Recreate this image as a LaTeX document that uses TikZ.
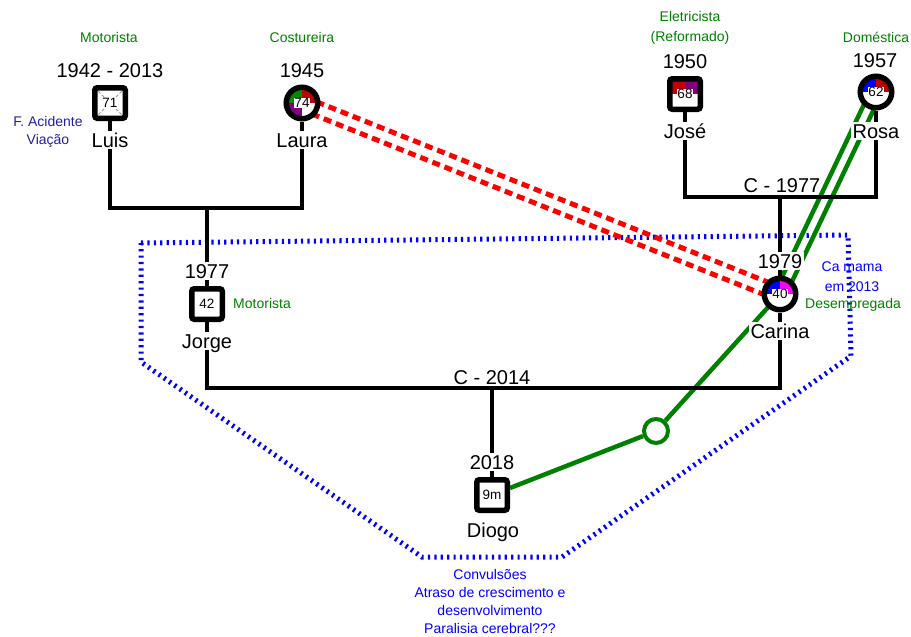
\documentclass[tikz,border=0pt]{standalone}
\usepackage{fontspec}
\setmainfont{Liberation Sans}
\usetikzlibrary{calc,backgrounds}
\definecolor{jobgreen}{RGB}{0,128,0}
\definecolor{notenavy}{RGB}{32,32,160}
\definecolor{noteblue}{RGB}{0,0,255}
\definecolor{qred}{RGB}{192,0,0}
\definecolor{qpurple}{RGB}{128,0,128}
\definecolor{qblue}{RGB}{0,0,255}
\definecolor{qmagenta}{RGB}{255,0,255}
\definecolor{qgreen}{RGB}{0,140,0}
\tikzset{
  male/.style={draw, line width=5.5pt, fill=white, minimum size=30.5pt, inner sep=0pt, rounded corners=2.5pt},
  female/.style={draw, circle, line width=5.5pt, fill=white, minimum size=31.5pt, inner sep=0pt},
  age/.style={font=\fontsize{13.5}{14}\selectfont, fill=white, inner sep=0.6pt},
  tag/.style={font=\fontsize{20}{22}\selectfont, fill=white, inner sep=1.8pt, text height=14.3pt, text depth=0pt},
  job/.style={text=jobgreen, font=\fontsize{14}{20}\selectfont, align=center},
  note/.style={font=\fontsize{14}{18}\selectfont, align=center},
  kin/.style={line width=4pt},
  quads/.style n args={4}{path picture={
    \fill[#1] (path picture bounding box.center) rectangle (path picture bounding box.north west);
    \fill[#2] (path picture bounding box.center) rectangle (path picture bounding box.north east);
    \fill[#3] (path picture bounding box.center) rectangle (path picture bounding box.south west);
    \fill[#4] (path picture bounding box.center) rectangle (path picture bounding box.south east);}},
  dead/.style={path picture={
    \draw[gray!80, line width=1pt, dash pattern=on 3pt off 2pt]
      (path picture bounding box.north west) -- (path picture bounding box.south east)
      (path picture bounding box.north east) -- (path picture bounding box.south west);}},
  conflictline/.style={draw=red, line width=5pt, dash pattern=on 8pt off 5pt},
  closeline/.style={draw=jobgreen, line width=4.5pt},
  householdline/.style={draw=noteblue, line width=5pt, dash pattern=on 2.2pt off 4.2pt},
}
\begin{document}
\begin{tikzpicture}[x=1pt, y=-1pt]
\useasboundingbox (0,0) rectangle (911,637);
% grandparents, father side
\node[male, dead, label={[age]center:71}] (luis) at (110,103) {};
\node[tag] (luisyear) at (110,70) {1942 - 2013};
\node[tag] (luisname) at (110,140) {Luis};
\node[job] (luisjob) at (109,37) {Motorista};
\node[note, text=notenavy] (luiscause) at (48,132) {F. Acidente\\Viação};
\node[female, quads={qgreen}{qred}{qpurple}{white}, label={[age]center:74}] (laura) at (302,103) {};
\node[tag] (laurayear) at (302,70) {1945};
\node[tag] (lauraname) at (302,140) {Laura};
\node[job] (laurajob) at (302,37) {Costureira};
% grandparents, mother side
\node[male, quads={qred}{qpurple}{white}{white}, label={[age]center:68}] (jose) at (685,94) {};
\node[tag] (joseyear) at (685,61) {1950};
\node[tag] (josename) at (685,131) {José};
\node[job] (josejob) at (690,27.5) {Eletricista\\(Reformado)};
\node[female, quads={qblue}{qred}{white}{white}, label={[age]center:62}] (rosa) at (876,92) {};
\node[tag] (rosayear) at (875,60) {1957};
\node[tag] (rosaname) at (876,131) {Rosa};
\node[job] (rosajob) at (876,37) {Doméstica};
% parents
\node[male, label={[age]center:42}] (jorge) at (207,304) {};
\node[tag] (jorgeyear) at (207,271) {1977};
\node[tag] (jorgename) at (207,341) {Jorge};
\node[job] (jorgejob) at (262,303) {Motorista};
\node[female, quads={qblue}{qmagenta}{white}{white}, label={[age]center:40}] (carina) at (780,294) {};
\node[tag] (carinayear) at (780,261) {1979};
\node[tag] (carinaname) at (780,331) {Carina};
\node[note, text=noteblue, font=\fontsize{14}{20}\selectfont] (carinanote) at (852,276.5) {Ca mama\\em 2013};
\node[job] (carinajob) at (853,305) {Desempregada};
% child
\node[male, label={[age]center:9m}] (diogo) at (492,495) {};
\node[tag] (diogoyear) at (492,462) {2018};
\node[tag] (diogoname) at (493,530) {Diogo};
\node[note, text=noteblue] (diogonote) at (490,601) {Convulsões\\Atraso de crescimento e\\desenvolvimento\\Paralisia cerebral???};
\node[draw=jobgreen, circle, line width=4pt, minimum size=24pt, inner sep=0pt] (gc) at (656,431) {};
% couples
\coordinate (c1) at (207,208);
\coordinate (c2) at (780,197);
\coordinate (c3) at (492,388);
\node[tag, fill=none] (c1977) at (782,185) {C - 1977};
\node[tag, fill=none] (c2014) at (492,377) {C - 2014};
\draw[kin] (luis) -- (luisname);
\draw[kin] (laura) -- (lauraname);
\draw[kin] (jose) -- (josename);
\draw[kin] (rosa) -- (rosaname);
\draw[kin] (jorge) -- (jorgename);
\draw[kin] (carina) -- (carinaname);
\draw[kin] (luisname) |- (c1) -| (lauraname);
\draw[kin] (josename) |- (c2) -| (rosaname);
\draw[kin] (jorgename) |- (c3) -| (carinaname);
\draw[kin] (c1) -- (jorgeyear);
\draw[kin] (jorgeyear) -- (jorge);
\draw[kin] (c2) -- (carinayear);
\draw[kin] (carinayear) -- (carina);
\draw[kin] (c3) -- (diogoyear);
\draw[kin] (diogoyear) -- (diogo);
% relations
\begin{scope}[on background layer]
\draw[householdline] (141,243) -- (848,235) -- (851,356) -- (562,557) -- (422,557) -- (141,362) -- cycle;
\draw[conflictline] ($(laura)!6.5pt!90:(carina)$) -- ($(carina)!6.5pt!-90:(laura)$);
\draw[conflictline] ($(laura)!6.5pt!-90:(carina)$) -- ($(carina)!6.5pt!90:(laura)$);
\draw[closeline] ($(rosa)!5.5pt!90:(carina)$) -- ($(carina)!5.5pt!-90:(rosa)$);
\draw[closeline] ($(rosa)!5.5pt!-90:(carina)$) -- ($(carina)!5.5pt!90:(rosa)$);
\draw[closeline] (carina.center) -- (gc);
\draw[closeline] (gc) -- (diogo);
\end{scope}
\end{tikzpicture}
\end{document}
